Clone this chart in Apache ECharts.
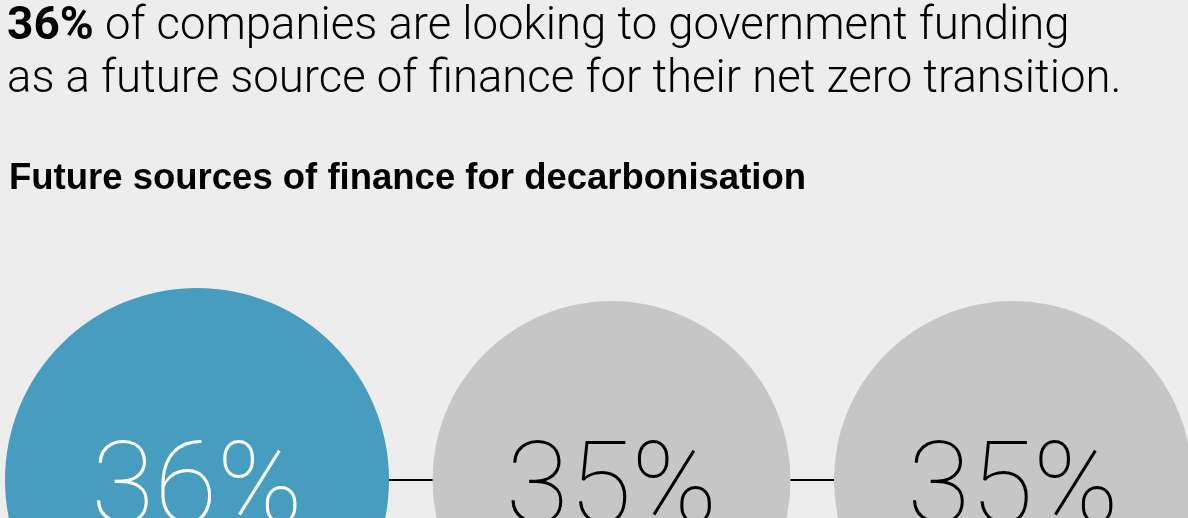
<!DOCTYPE html>
<html><head><meta charset="utf-8">
<script src="https://cdn.jsdelivr.net/npm/echarts@6/dist/echarts.min.js"></script>
<style>html,body{margin:0;padding:0;background:#ededed}#c{width:1188px;height:518px}</style>
</head><body><div id="c"></div>
<script>
// Share of companies naming each future source of finance (%)
const shares = [36, 35, 35];
// The first source is the one the headline calls out
const focusIndex = 0;

const WIDTH = 1188, HEIGHT = 518;
const BIG = 384, SMALL = 358;      // circle diameters
const GAP = 43.5;                  // space between neighbouring circles
const ROW_Y = HEIGHT - 480;        // centre line of the circle row
const START = 5;                   // left edge of the first circle

// Lay the circles out side by side along the row
const sizes = shares.map((v, i) => i === focusIndex ? BIG : SMALL);
const xs = [];
let edge = START;
sizes.forEach((s, i) => {
  xs.push(edge + s / 2);
  edge += s + GAP;
});

const points = shares.map((v, i) => ({
  value: [xs[i], ROW_Y, v],
  symbolSize: sizes[i],
  itemStyle: { color: i === focusIndex ? '#479dc0' : '#c6c6c6', opacity: 1 },
  label: { color: i === focusIndex ? '#ffffff' : '#000000' }
}));

const chart = echarts.init(document.getElementById('c'), null, { renderer: 'canvas' });
chart.setOption({
  backgroundColor: '#ededed',
  animation: false,
  title: [
    {
      text: '{b|36%} of companies are looking to government funding\nas a future source of finance for their net zero transition.',
      left: 2, top: -4,
      textStyle: {
        fontFamily: 'Roboto', fontWeight: 300, fontSize: 45.5, lineHeight: 53, color: '#000',
        rich: { b: { fontFamily: 'Roboto', fontWeight: 'bold', fontSize: 46, lineHeight: 53, color: '#000' } }
      }
    },
    {
      text: 'Future sources of finance for decarbonisation',
      left: 4, top: 156,
      textStyle: { fontFamily: '"Liberation Sans", Arial, sans-serif', fontWeight: 'bold', fontSize: 36.5, lineHeight: 36, color: '#000' }
    }
  ],
  grid: { left: 0, right: 0, top: 0, bottom: 0 },
  xAxis: { type: 'value', min: 0, max: WIDTH, show: false },
  yAxis: { type: 'value', min: 0, max: HEIGHT, show: false },
  series: [
    {
      type: 'line',
      data: points.map(p => [p.value[0], p.value[1]]),
      symbol: 'none',
      lineStyle: { color: '#000', width: 2 },
      z: 1,
      silent: true
    },
    {
      type: 'scatter',
      data: points,
      z: 2,
      label: {
        show: true,
        position: 'inside',
        formatter: p => p.value[2] + '%',
        fontFamily: 'Roboto',
        fontWeight: 100,
        fontSize: 115,
        verticalAlign: 'middle',
        offset: [0, 14]
      },
      emphasis: { disabled: true }
    }
  ]
});
</script></body></html>
